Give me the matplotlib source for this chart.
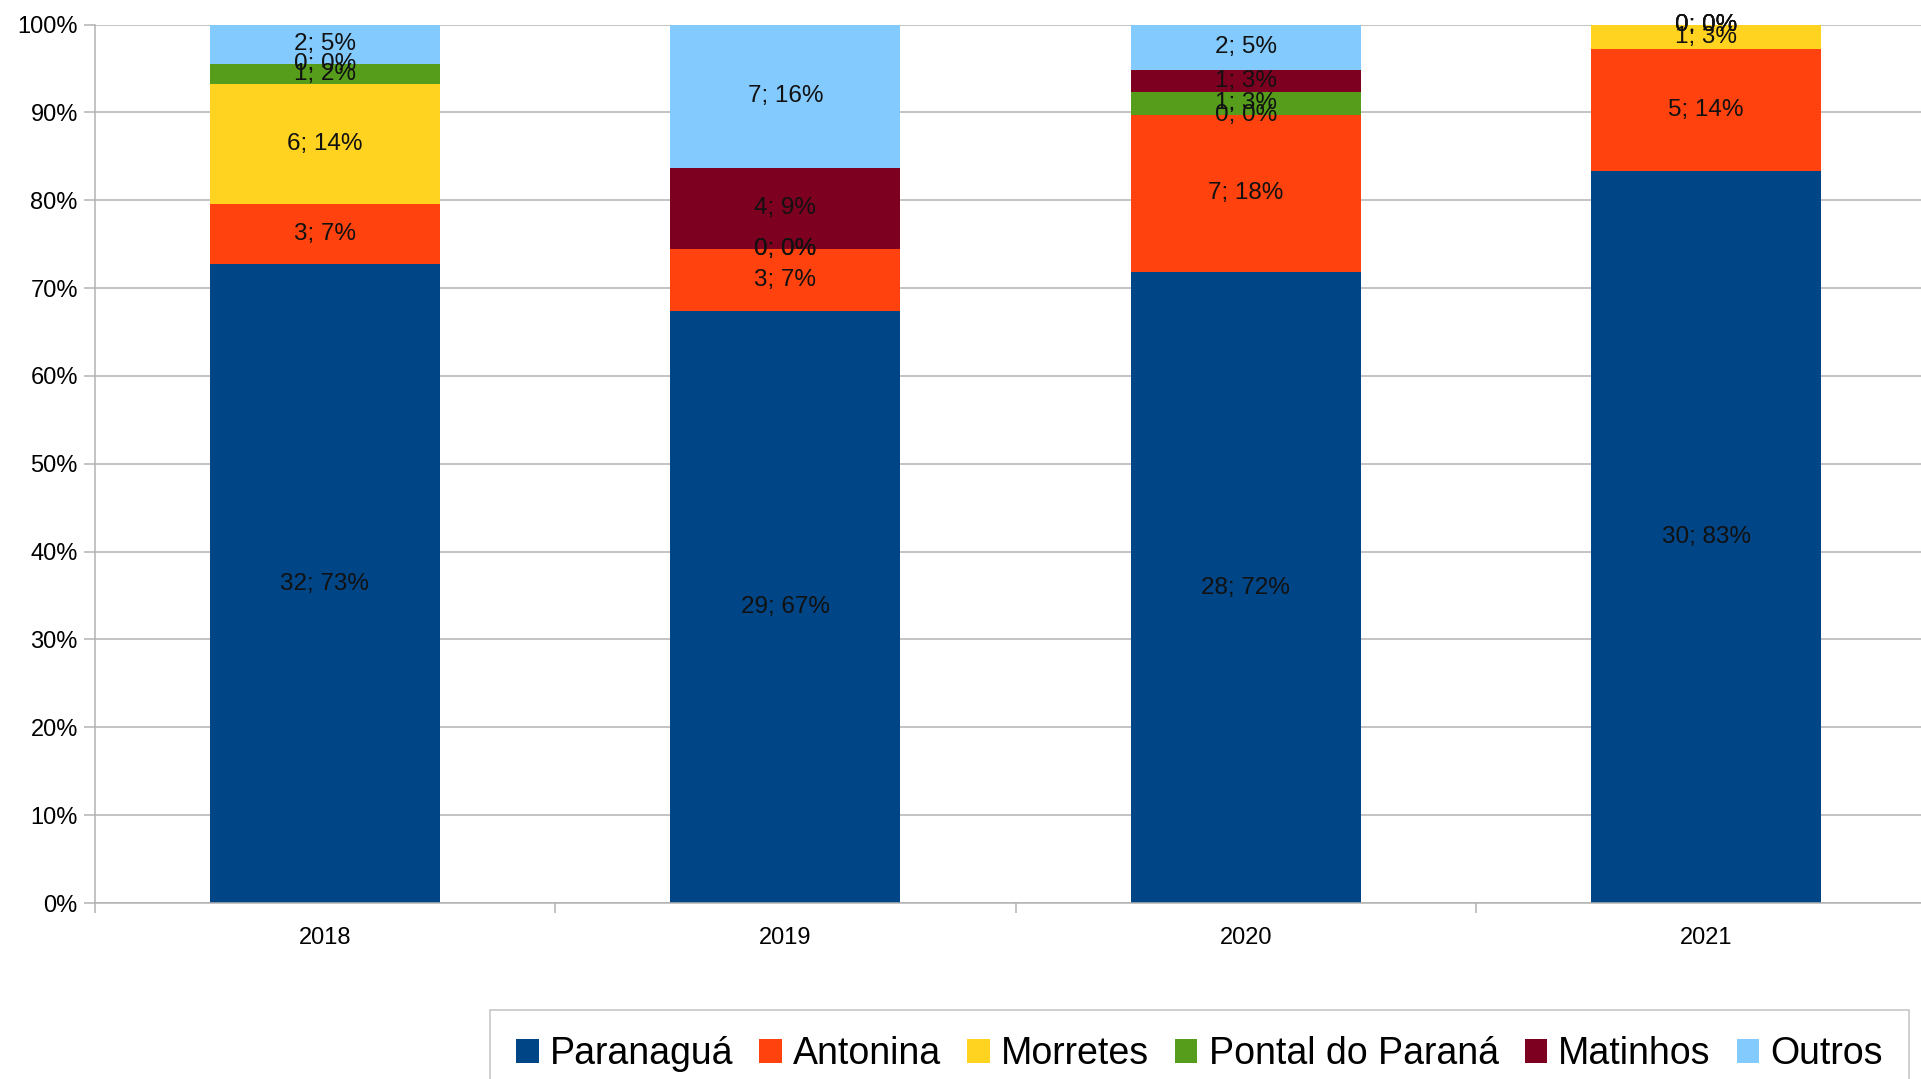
import numpy as np
import matplotlib
matplotlib.use("Agg")
import matplotlib.pyplot as plt
from matplotlib.ticker import FixedLocator, PercentFormatter

plt.rcParams['font.family'] = ['Liberation Sans', 'DejaVu Sans']

anos = ['2018', '2019', '2020', '2021']
cidades = ['Paranaguá', 'Antonina', 'Morretes', 'Pontal do Paraná', 'Matinhos', 'Outros']
cores = ['#004586', '#ff420e', '#ffd320', '#579d1c', '#7e0021', '#83caff']

# contagens por ano
paranagua = [32, 29, 28, 30]
antonina = [3, 3, 7, 5]
morretes = [6, 0, 0, 1]
pontal = [1, 0, 1, 0]
matinhos = [0, 4, 1, 0]
outros = [2, 7, 2, 0]

series = [paranagua, antonina, morretes, pontal, matinhos, outros]
dados = np.array(series, dtype=float)
totais = dados.sum(axis=0)
perc = dados / totais * 100

fig = plt.figure(figsize=(19.21, 10.79), dpi=100)
W, H = 1921, 1079
left, bottom, top = 94.5, 903, 24.5
cat_w = 460.5
ax = fig.add_axes([left / W, 1 - bottom / H, 4 * cat_w / W, (bottom - top) / H])

x = np.arange(len(anos))
base = np.zeros(len(anos))
for i, nome in enumerate(cidades):
    bars = ax.bar(x, perc[i], 0.5, bottom=base, color=cores[i], label=nome, zorder=2)
    labs = [f"{int(n)}; {round(p)}%" for n, p in zip(dados[i], perc[i])]
    ax.bar_label(bars, labels=labs, label_type='center', fontsize=17.5, color='#111111')
    base += perc[i]

ax.set_xlim(-0.5, 3.5)
ax.set_ylim(0, 100)
ax.yaxis.set_major_locator(FixedLocator(np.arange(0, 101, 10)))
ax.yaxis.set_major_formatter(PercentFormatter(decimals=0))
ax.grid(axis='y', color='#b3b3b3', linewidth=1.1, zorder=0)
ax.set_axisbelow(True)

ax.set_xticks(x)
ax.set_xticklabels(anos)
ax.xaxis.set_minor_locator(FixedLocator([-0.5, 0.5, 1.5, 2.5]))
ax.tick_params(axis='x', which='major', length=0, pad=17, labelsize=17)
ax.tick_params(axis='x', which='minor', length=7, width=1.1, color='#b3b3b3', direction='out')
ax.tick_params(axis='y', length=8, width=1.1, color='#b3b3b3', pad=4, labelsize=17)

for s in ['top', 'right']:
    ax.spines[s].set_visible(False)
for s in ['left', 'bottom']:
    ax.spines[s].set_color('#b3b3b3')
    ax.spines[s].set_linewidth(1.1)

leg = fig.legend(loc='upper left', bbox_to_anchor=(490 / W, 1 - 1010 / H),
                 ncol=6, fontsize=27, frameon=True, fancybox=False,
                 handlelength=0.6, handleheight=0.6, handletextpad=0.3,
                 columnspacing=0.69, borderpad=0.7, borderaxespad=0)
leg.get_frame().set_edgecolor('#b3b3b3')
leg.get_frame().set_linewidth(1.1)

fig.savefig('out.png', dpi=100)
